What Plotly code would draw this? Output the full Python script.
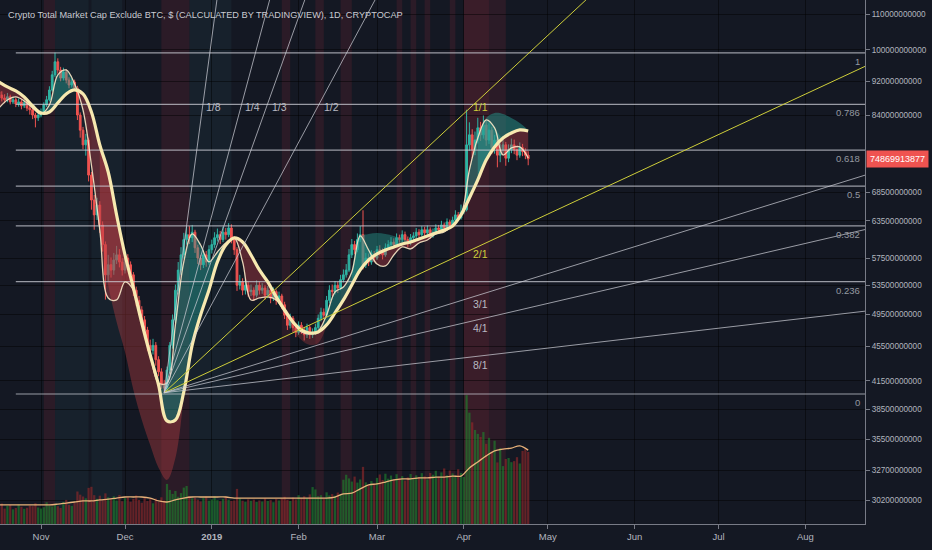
import numpy as np
import pandas as pd
import plotly.graph_objects as go

TITLE = "Crypto Total Market Cap Exclude BTC, $ (CALCULATED BY TRADINGVIEW), 1D, CRYPTOCAP"
FONT = "Liberation Sans, Arial, sans-serif"

# daily candles from 2018-10-17 to 2019-04-24, billions USD (open = previous close)
first_day = "2018-10-17"
first_open = 89.5
close = [
    88.7, 88.0, 87.6, 88.3, 87.1, 87.6, 86.6, 87.1, 86.2, 86.9,
    85.7, 85.3, 84.1, 83.5, 84.1, 84.8, 86.4, 87.6, 89.9, 93.6,
    96.9, 94.8, 92.8, 94.3, 92.3, 91.1, 91.8, 90.4, 84.1, 80.8,
    77.7, 78.7, 71.7, 67.1, 64.5, 66.2, 62.8, 59.6, 55.0, 56.5,
    55.7, 57.2, 58.0, 56.9, 55.7, 57.5, 56.5, 55.0, 52.8, 51.4,
    50.1, 48.8, 47.5, 45.6, 45.0, 45.6, 43.9, 42.5, 41.0, 40.7,
    42.7, 45.6, 48.8, 52.8, 55.7, 58.0, 60.4, 61.2, 60.7, 61.6,
    59.1, 57.5, 56.5, 58.0, 56.9, 58.8, 59.6, 60.7, 61.2, 60.4,
    61.6, 61.2, 62.3, 60.4, 58.8, 53.5, 54.0, 52.8, 53.5, 52.6,
    52.8, 52.1, 53.5, 52.8, 53.1, 52.1, 52.8, 51.7, 52.6, 51.4,
    52.0, 50.8, 49.4, 48.1, 49.0, 47.8, 47.2, 48.1, 47.5, 46.9,
    47.8, 46.9, 47.2, 47.8, 49.0, 49.8, 49.4, 51.4, 52.8, 52.6,
    53.5, 53.1, 54.3, 55.0, 55.7, 58.0, 59.6, 58.8, 60.4, 61.2,
    56.5, 57.5, 56.9, 58.0, 57.5, 58.8, 58.5, 58.0, 59.1, 59.6,
    60.0, 59.6, 60.7, 60.4, 61.2, 60.4, 59.9, 60.7, 61.0, 61.6,
    61.2, 62.0, 61.5, 62.0, 61.0, 61.6, 62.3, 62.0, 62.8, 62.3,
    63.3, 62.8, 63.6, 64.5, 64.0, 65.0, 65.4, 77.7, 79.8, 76.7,
    78.7, 81.3, 79.8, 81.9, 78.7, 80.8, 77.1, 78.7, 75.6, 76.7,
    77.7, 75.0, 76.7, 77.7, 76.7, 75.6, 77.1, 76.3, 75.6, 74.87,
]
high = [
    90.3, 89.6, 88.9, 89.2, 88.8, 88.4, 88.1, 87.9, 87.6, 87.8,
    87.3, 86.4, 85.8, 84.6, 84.9, 85.6, 87.0, 88.5, 90.8, 94.6,
    99.3, 97.8, 95.6, 95.4, 95.0, 93.0, 92.7, 92.4, 90.9, 84.7,
    81.5, 80.0, 79.2, 72.3, 68.0, 67.5, 66.9, 63.4, 60.1, 58.0,
    57.6, 58.3, 59.4, 58.9, 57.5, 58.4, 58.1, 57.0, 55.4, 53.3,
    52.0, 50.6, 49.3, 47.9, 46.3, 46.4, 46.0, 44.3, 42.9, 41.6,
    43.1, 46.0, 49.5, 53.6, 56.9, 59.2, 61.5, 62.5, 62.6, 62.8,
    62.0, 59.6, 58.0, 58.7, 58.6, 59.5, 60.4, 61.6, 62.2, 61.8,
    62.5, 62.3, 63.1, 62.9, 60.9, 59.2, 55.0, 54.5, 54.3, 54.0,
    53.6, 53.2, 54.2, 54.0, 53.8, 53.5, 53.4, 53.1, 53.2, 52.9,
    52.6, 52.3, 51.2, 49.8, 49.6, 49.3, 48.3, 48.6, 48.5, 47.9,
    48.3, 48.1, 47.7, 48.3, 49.5, 50.4, 50.3, 52.0, 53.5, 53.6,
    54.1, 54.0, 55.0, 55.8, 56.6, 58.9, 60.5, 60.2, 61.4, 62.6,
    65.3, 58.3, 58.2, 58.7, 58.6, 59.4, 59.5, 59.0, 59.8, 60.3,
    60.8, 60.6, 61.4, 61.2, 61.9, 61.7, 60.9, 61.3, 61.6, 62.3,
    62.1, 62.6, 62.5, 62.7, 62.4, 62.2, 62.9, 62.8, 63.5, 63.2,
    63.9, 63.7, 64.2, 65.3, 65.0, 66.3, 66.0, 85.3, 82.5, 81.0,
    80.5, 83.5, 82.6, 84.0, 82.8, 82.3, 81.5, 79.8, 79.3, 78.0,
    79.5, 78.3, 77.8, 79.0, 78.8, 77.5, 78.2, 77.9, 77.0, 76.4,
]
low = [
    87.9, 87.2, 86.8, 87.0, 86.5, 86.6, 85.9, 86.0, 85.4, 85.7,
    85.0, 84.2, 83.2, 81.4, 82.8, 83.6, 84.3, 85.9, 87.2, 89.5,
    93.0, 93.9, 92.0, 92.2, 91.5, 90.3, 90.5, 89.6, 83.0, 79.2,
    76.8, 75.5, 70.5, 65.4, 62.0, 63.6, 61.5, 58.5, 51.5, 54.1,
    54.6, 55.0, 56.6, 56.1, 54.9, 55.2, 55.8, 54.2, 52.0, 50.6,
    49.4, 48.0, 46.8, 44.9, 44.1, 44.5, 43.2, 42.0, 40.6, 40.2,
    40.3, 42.3, 45.2, 48.4, 52.2, 55.0, 57.4, 59.6, 59.7, 60.0,
    58.3, 56.6, 55.7, 56.0, 56.2, 56.5, 58.2, 59.1, 60.1, 59.7,
    60.0, 60.4, 60.8, 59.8, 58.0, 52.7, 52.9, 52.1, 52.2, 51.9,
    52.0, 51.3, 51.8, 52.2, 52.3, 51.5, 51.7, 51.0, 51.3, 50.8,
    51.0, 50.2, 48.9, 47.5, 47.7, 47.2, 46.6, 46.9, 47.0, 46.2,
    46.5, 46.4, 46.5, 46.9, 47.5, 48.6, 48.9, 49.1, 51.0, 52.0,
    52.2, 52.4, 52.8, 53.9, 54.6, 55.4, 57.5, 58.1, 58.4, 60.0,
    55.8, 56.0, 56.3, 56.5, 56.9, 57.2, 57.9, 57.3, 57.7, 58.8,
    59.1, 59.0, 59.3, 59.9, 60.0, 59.8, 59.2, 59.5, 60.2, 60.6,
    60.7, 60.9, 61.0, 61.2, 60.5, 60.7, 61.3, 61.5, 61.7, 61.9,
    62.0, 62.3, 62.5, 63.3, 63.5, 63.7, 64.6, 65.1, 76.5, 75.0,
    75.6, 78.0, 78.5, 79.0, 77.5, 77.9, 75.8, 75.9, 73.2, 74.2,
    75.9, 73.5, 74.2, 76.0, 75.8, 74.6, 75.1, 75.4, 74.8, 73.6,
]
volume = [
    6.5, 7.8, 5.9, 6.9, 7.2, 5.6, 6.1, 7.4, 6.6, 5.8,
    6.2, 7.0, 6.8, 7.9, 6.3, 5.9, 6.4, 8.3, 7.1, 6.7,
    7.6, 6.8, 6.1, 8.4, 9.2, 7.3, 6.9, 8.0, 12.4, 11.2,
    10.5, 9.8, 13.8, 14.2, 11.0, 9.6, 10.8, 9.1, 11.7, 10.2,
    9.4, 10.6, 9.0, 11.1, 8.7, 9.9, 10.3, 8.5, 9.6, 10.9,
    9.2, 8.1, 10.0, 8.8, 9.5, 7.9, 9.7, 8.4, 10.2, 9.0,
    15.3, 13.0, 11.5, 12.6, 10.4, 11.8, 13.9, 14.5, 10.7, 9.8,
    10.1, 9.3, 8.6, 9.9, 10.5, 8.9, 9.4, 10.6, 9.1, 8.7,
    9.6, 10.4, 9.2, 8.8, 9.0, 13.4, 9.7, 8.9, 8.5, 9.4,
    8.9, 9.3, 8.4, 9.0, 8.6, 9.8, 8.8, 9.1, 8.3, 9.5,
    9.0, 9.7, 10.4, 9.2, 8.8, 10.1, 9.4, 11.0, 9.9, 10.6,
    9.8, 11.3, 14.1, 13.2, 10.6, 11.0, 9.7, 12.1, 10.9, 11.4,
    10.8, 12.0, 11.3, 16.9, 18.8, 17.4, 16.2, 18.1, 15.8, 17.0,
    21.8, 15.9, 14.7, 16.4, 15.1, 17.6, 18.9, 16.8, 19.2, 17.3,
    18.5, 16.9, 19.0, 17.4, 18.3, 16.6, 17.8, 19.1, 17.2, 18.6,
    17.9, 19.4, 18.2, 17.0, 19.5, 18.8, 20.3, 18.1, 19.7, 21.2,
    18.6, 20.4, 19.3, 17.9, 20.9, 19.5, 18.0, 49.2, 42.5, 38.8,
    35.9, 34.4, 33.2, 35.1, 30.6, 32.9, 27.3, 31.8, 23.5, 29.0,
    22.1, 24.8, 25.2, 23.6, 24.0, 25.5, 23.1, 27.9, 28.6, 27.5,
]

# smoothed lines, one value every 3 days from first_day
slow_ma = [
    91.84, 90.63, 89.67, 88.25, 86.16, 84.57, 84.80, 86.86, 88.96, 89.91,
    88.96, 84.80, 77.68, 72.29, 64.49, 57.98, 53.12, 48.39, 44.44, 41.04,
    37.30, 37.40, 40.29, 45.65, 49.44, 52.83, 56.92, 59.54, 60.67, 60.02,
    57.98, 55.72, 53.97, 51.86, 50.10, 48.52, 47.50, 47.12, 47.25, 48.14,
    49.70, 51.45, 53.54, 55.72, 57.22, 58.14, 58.76, 59.23, 59.70, 60.02,
    60.51, 60.99, 61.48, 61.97, 62.63, 64.49, 67.47, 70.78, 74.64, 77.27,
    79.14, 80.20, 80.84, 80.62,
]
fast_ma = [
    85.71, 87.55, 88.25, 87.32, 85.71, 84.35, 86.39, 93.57, 94.82, 91.35,
    85.25, 73.65, 61.97, 51.72, 51.45, 53.97, 52.83, 49.04, 44.44, 41.26,
    41.26, 48.14, 56.92, 61.31, 59.54, 56.92, 58.45, 59.86, 60.67, 56.92,
    51.45, 51.72, 51.86, 51.45, 49.83, 48.39, 47.25, 47.00, 47.37, 49.44,
    52.55, 53.26, 55.42, 60.99, 58.76, 56.61, 56.31, 57.98, 59.23, 58.92,
    59.86, 60.34, 61.31, 61.64, 62.80, 64.49, 72.68, 79.14, 83.02, 81.27,
    75.64, 77.06, 77.27, 75.04,
]
vol_ma = [
    7.3, 7.3, 7.3, 7.3, 7.3, 7.3, 7.3, 7.6, 8.0, 8.4,
    8.8, 8.8, 9.2, 9.5, 9.9, 10.3, 10.3, 10.3, 9.9, 8.8,
    8.4, 9.2, 9.9, 10.3, 10.3, 10.3, 10.3, 10.3, 9.9, 9.9,
    9.9, 9.9, 9.9, 9.9, 9.9, 9.9, 9.9, 9.9, 9.9, 9.9,
    10.3, 11.5, 11.8, 13.4, 14.9, 15.3, 16.0, 16.8, 17.2, 17.2,
    17.6, 17.6, 17.9, 17.9, 18.3, 18.3, 21.4, 23.7, 26.0, 27.9,
    28.6, 29.0, 29.8, 28.2,
]

# projected clouds: first 3-day sample index, edge values
cloud_red_nov = (12, [62.80, 53.54, 48.52, 44.80, 40.50, 37.40, 34.99, 32.92, 31.89, 33.80, 40.07])
cloud_red_feb = (34, [49.83, 47.50, 46.26, 45.65, 45.89, 48.01])
cloud_teal_feb = (42, [55.42, 60.83, 61.31, 61.48, 61.31, 60.99, 60.51, 60.02])
cloud_teal_apr = (57, [79.14, 83.46, 84.57, 84.35, 83.46, 82.36, 80.84])

# fib retracement
fib_start = "2018-10-23"
fib_low, fib_high = 40.07, 99.2
fib_levels = [0, 0.236, 0.382, 0.5, 0.618, 0.786, 1, 1.272]

# gann fan
gann_origin = ("2018-12-15", 40.2)
gann_corner = ("2019-04-07", 88.0)
gann_ratios = ["1/8", "1/4", "1/3", "1/2", "1/1", "2/1", "3/1", "4/1", "8/1"]

price_ticks = [110e9, 100e9, 92e9, 84e9, 68.5e9, 63.5e9, 57.5e9, 53.5e9,
               49.5e9, 45.5e9, 41.5e9, 38.5e9, 35.5e9, 32.7e9, 30.2e9]
month_ticks = ["2018-11-01", "2018-12-01", "2019-01-01", "2019-02-01", "2019-03-01",
               "2019-04-01", "2019-05-01", "2019-06-01", "2019-07-01", "2019-08-01"]
month_labels = ["Nov", "Dec", "<b>2019</b>", "Feb", "Mar", "Apr", "May", "Jun", "Jul", "Aug"]
last_price = 74869913877

red_bands = [("2018-11-02", "2018-11-06"), ("2018-12-14", "2018-12-24"), ("2019-01-26", "2019-01-29"),
             ("2019-02-07", "2019-02-10"), ("2019-02-16", "2019-02-20"), ("2019-03-08", "2019-03-10"),
             ("2019-03-13", "2019-03-15"), ("2019-03-18", "2019-03-20"), ("2019-03-27", "2019-03-29"),
             ("2019-04-01", "2019-04-10"), ("2019-04-10", "2019-04-16")]
teal_bands = [("2018-11-06", "2018-11-18"), ("2018-11-19", "2018-11-30"), ("2018-12-24", "2019-01-08")]

BG = "#141823"
UP, DOWN = "#2fb3a3", "#ef5350"
CREAM = "#f7e9b0"
YELLOW = "rgb(206,206,58)"
GREY_LINE = "rgba(205,207,215,0.72)"
LABEL = "#9598a1"
AXIS_TXT = "#b2b5be"

days = pd.date_range(first_day, periods=len(close), freq="D")
samp = pd.date_range(first_day, periods=len(slow_ma), freq="3D")
x_start = pd.Timestamp(first_day) + pd.Timedelta(hours=8.5)
x_end = pd.Timestamp("2019-08-22 07:00")

opens = [first_open] + close[:-1]
B = 1e9
S = np.array(slow_ma) * B
F = np.array(fast_ma) * B

fig = go.Figure()

# volume
vcol = ["rgba(30,130,45,0.62)" if c >= o else "rgba(150,40,42,0.62)" for o, c in zip(opens, close)]
fig.add_trace(go.Bar(x=days, y=volume, marker=dict(color=vcol, line=dict(width=0)),
                     width=0.8 * 86400000, yaxis="y2"))
fig.add_trace(go.Scatter(x=samp, y=vol_ma, mode="lines", yaxis="y2",
                         line=dict(color="#e8b27a", width=1.3, shape="spline")))


def band(x, base, edge, color):
    fig.add_trace(go.Scatter(x=x, y=base, mode="lines", line=dict(width=0, shape="spline")))
    fig.add_trace(go.Scatter(x=x, y=edge, mode="lines", line=dict(width=0, shape="spline"),
                             fill="tonexty", fillcolor=color))


for (i0, vals), col in [(cloud_red_nov, "rgba(190,62,66,0.38)"), (cloud_red_feb, "rgba(190,62,66,0.3)"),
                        (cloud_teal_feb, "rgba(38,150,140,0.45)"), (cloud_teal_apr, "rgba(38,150,140,0.5)")]:
    n = len(vals)
    band(samp[i0:i0 + n], S[i0:i0 + n], np.array(vals) * B, col)

band(samp, S, np.maximum(F, S), "rgba(38,166,154,0.42)")
band(samp, S, np.minimum(F, S), "rgba(200,62,70,0.38)")

# fib lines
for lv in fib_levels:
    p = (fib_low + lv * (fib_high - fib_low)) * B
    fig.add_trace(go.Scatter(x=[fib_start, x_end], y=[p, p], mode="lines",
                             line=dict(color=GREY_LINE, width=1.2)))

fig.add_trace(go.Candlestick(
    x=days, open=np.array(opens) * B, high=np.array(high) * B, low=np.array(low) * B,
    close=np.array(close) * B, whiskerwidth=0,
    increasing=dict(line=dict(color=UP, width=1), fillcolor=UP),
    decreasing=dict(line=dict(color=DOWN, width=1), fillcolor=DOWN)))

fig.add_trace(go.Scatter(x=samp, y=F, mode="lines", line=dict(color="rgba(250,232,200,0.9)", width=1.3, shape="spline")))
fig.add_trace(go.Scatter(x=samp, y=S, mode="lines", line=dict(color=CREAM, width=3.2, shape="spline")))

# gann fan
t0 = pd.Timestamp(gann_origin[0])
p0 = gann_origin[1] * B
D = (pd.Timestamp(gann_corner[0]) - t0).days
m = np.log10(gann_corner[1] / gann_origin[1]) / D
total = (x_end - t0) / pd.Timedelta(days=1)
annotations = []
for r in gann_ratios:
    a, b = [int(v) for v in r.split("/")]
    k = m * b / a
    span = min(total, np.log10(130e9 / p0) / k)
    col = YELLOW if r in ("1/1", "2/1") else GREY_LINE
    fig.add_trace(go.Scatter(x=[t0, t0 + pd.Timedelta(days=span)], y=[p0, p0 * 10 ** (k * span)],
                             mode="lines", line=dict(color=col, width=1)))
    if a == 1 and b > 1:
        lx, ly, anchor = t0 + pd.Timedelta(days=D / (b / a)), gann_corner[1] * B, "left"
    else:
        lx, ly, anchor = t0 + pd.Timedelta(days=D), p0 * 10 ** (k * D), "center"
    annotations.append(dict(x=lx, y=np.log10(ly), xref="x", yref="y", text=r, showarrow=False,
                            xanchor=anchor, yanchor="top", yshift=-1,
                            font=dict(family=FONT, size=10.5, color=YELLOW if col == YELLOW else "#b8bac2")))

for lv in fib_levels:
    p = (fib_low + lv * (fib_high - fib_low)) * B
    annotations.append(dict(x=0.996, y=np.log10(p), xref="paper", yref="y", text=f"{lv:g}",
                            showarrow=False, xanchor="right", yanchor="top", yshift=-1,
                            font=dict(family=FONT, size=9.5, color=LABEL)))

annotations.append(dict(x=6 / 865, y=1 - 15 / 524, xref="paper", yref="paper", text=TITLE,
                        showarrow=False, xanchor="left", yanchor="middle",
                        font=dict(family=FONT, size=9.2, color="#c9cbd2")))
annotations.append(dict(x=1.0, y=np.log10(last_price), xref="paper", yref="y", text=str(last_price),
                        showarrow=False, xanchor="left", yanchor="middle", xshift=1,
                        bgcolor=DOWN, borderpad=3, font=dict(family=FONT, size=9, color="white")))

shapes = []
for x0, x1 in red_bands:
    alpha = 0.26 if x0 == "2019-04-01" else 0.16
    shapes.append(dict(type="rect", xref="x", yref="paper", x0=x0, x1=x1, y0=0, y1=1,
                       fillcolor=f"rgba(170,45,60,{alpha})", line=dict(width=0), layer="below"))
for x0, x1 in teal_bands:
    shapes.append(dict(type="rect", xref="x", yref="paper", x0=x0, x1=x1, y0=0, y1=1,
                       fillcolor="rgba(60,120,130,0.1)", line=dict(width=0), layer="below"))

fig.update_layout(
    width=932, height=550, margin=dict(l=0, r=67, t=0, b=26),
    paper_bgcolor=BG, plot_bgcolor=BG, showlegend=False, hovermode=False,
    annotations=annotations, shapes=shapes, boxgap=0.1,
    xaxis=dict(type="date", range=[x_start, x_end], rangeslider=dict(visible=False),
               tickvals=month_ticks, ticktext=month_labels, ticks="outside", ticklen=4,
               tickcolor="#787b86", showline=True, linecolor="#787b86",
               gridcolor="rgba(0,0,0,0.45)", zeroline=False, automargin=False,
               tickfont=dict(family=FONT, size=9.5, color=AXIS_TXT)),
    yaxis=dict(type="log", side="right", range=[np.log10(28.36e9), np.log10(114.2e9)],
               tickvals=price_ticks, ticktext=[str(int(v)) for v in price_ticks],
               ticks="outside", ticklen=4, tickcolor="#787b86", showline=True, linecolor="#787b86",
               gridcolor="rgba(0,0,0,0.45)", zeroline=False, automargin=False,
               tickfont=dict(family=FONT, size=8.2, color=AXIS_TXT)),
    yaxis2=dict(overlaying="y", range=[0, 200], visible=False, showgrid=False),
)

fig.write_html("out.html", config={"displayModeBar": False},
               post_script="document.body.style.margin='0';"
               "document.documentElement.style.overflow='hidden';")
